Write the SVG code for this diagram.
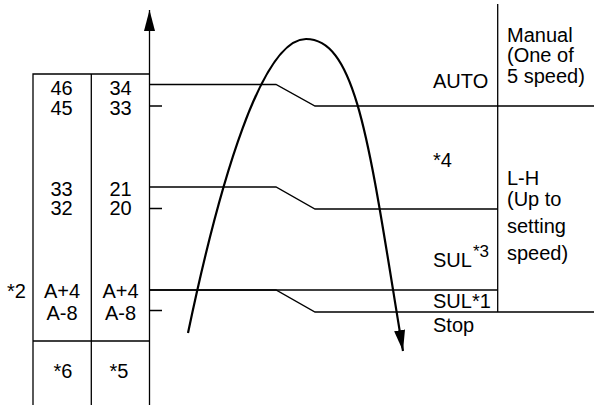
<svg xmlns="http://www.w3.org/2000/svg" width="594" height="405" viewBox="0 0 594 405">
<style>
text{font-family:"Liberation Sans",Arial,sans-serif;font-size:20px;fill:#000}
.ln{fill:none;stroke:#000;stroke-width:1.3}
.mid{text-anchor:middle}
.sup{font-size:17px}
</style>
<defs>
<marker id="ah2" markerUnits="userSpaceOnUse" markerWidth="22" markerHeight="12" viewBox="0 0 22 12" refX="21" refY="5.5" orient="auto">
<path d="M0,0 L21,5.5 L0,11 Z" fill="#000"/>
</marker>
</defs>
<rect width="594" height="405" fill="#fff"/>
<g id="table">
<path class="ln" d="M33,405 V74 H149.5 M91.3,74 V405 M33,341 H149.5"/>
<text class="mid" x="61.5" y="95">46</text>
<text class="mid" x="61.5" y="114.5">45</text>
<text class="mid" x="120.5" y="95">34</text>
<text class="mid" x="120.5" y="114.5">33</text>
<text class="mid" x="61.5" y="195.5">33</text>
<text class="mid" x="61.5" y="215">32</text>
<text class="mid" x="120.5" y="195.5">21</text>
<text class="mid" x="120.5" y="215">20</text>
<text x="7" y="297.5">*2</text>
<text class="mid" x="62" y="297.5">A+4</text>
<text class="mid" x="62" y="319.5">A-8</text>
<text class="mid" x="120.5" y="297.5">A+4</text>
<text class="mid" x="120.5" y="319.5">A-8</text>
<text class="mid" x="63" y="377.5">*6</text>
<text class="mid" x="119" y="377.5">*5</text>
</g>
<g id="connectors">
<line class="ln" x1="149.5" y1="405" x2="149.5" y2="10" marker-end="url(#ah2)"/>
<path class="ln" d="M149.5,106 H162 M149.5,208.5 H162 M149.5,310.5 H162"/>
<path class="ln" d="M149.5,84.5 H276 L315,106 H594"/>
<path class="ln" d="M149.5,187 H276 L315,209 H497.7"/>
<path class="ln" d="M149.5,290 H497.7"/>
<path class="ln" d="M149.5,290 H276 L315,312 H594"/>
<line class="ln" x1="497.7" y1="4" x2="497.7" y2="312"/>
<path d="M188,333 C220,180 262,39 306,39 C358,39 370,151 403,351" fill="none" stroke="#000" stroke-width="2.2" marker-end="url(#ah2)"/>
</g>
<g id="labels">
<text x="507" y="41.5">Manual</text>
<text x="507" y="62">(One of</text>
<text x="507" y="82.5">5 speed)</text>
<text x="433" y="87.5">AUTO</text>
<text x="433" y="167">*4</text>
<text x="507" y="185">L-H</text>
<text x="507" y="206">(Up to</text>
<text x="507" y="233">setting</text>
<text x="507" y="260">speed)</text>
<text x="433" y="267">SUL<tspan class="sup" dx="1" dy="-10.5">*3</tspan></text>
<text x="433" y="308">SUL*1</text>
<text x="433" y="331.5">Stop</text>
</g>
</svg>
